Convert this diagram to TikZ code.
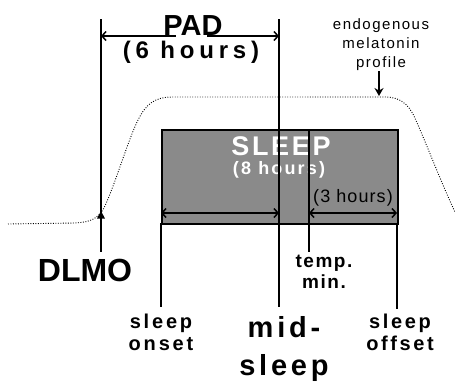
\documentclass[tikz,border=0pt]{standalone}
\usepackage{fontspec}
\setmainfont{Liberation Sans}
\usetikzlibrary{arrows.meta}
\definecolor{sleepgray}{HTML}{8A8A8A}
\newcommand{\mysz}[2]{\fontsize{#1}{#1}\selectfont\addfontfeature{LetterSpace=#2}}
\begin{document}
\begin{tikzpicture}[x=1pt,y=-1pt,
  lbl/.style={inner sep=0pt, anchor=base},
  vline/.style={line width=1.3pt},
  barb/.tip={Straight Barb[length=4pt,width=9pt]},
  dimline/.style={line width=1.5pt},
  dotcurve/.style={line width=0.9pt, dash pattern=on 0.9pt off 1.6pt}]
\useasboundingbox (0,0) rectangle (455,381);

% melatonin profile (dotted)
\draw[dotcurve] (8,224) -- (75,223) .. controls (92,222) and (98,218) .. (104,208)
  .. controls (115,185) and (128,140) .. (138,120)
  .. controls (146,104) and (155,97) .. (172,97) -- (385,97)
  .. controls (400,97) and (408,104) .. (414,116)
  .. controls (425,140) and (440,180) .. (455,212);

% sleep box
\node[draw, line width=2pt, fill=sleepgray, minimum width=236pt, minimum height=94pt,
      inner sep=0pt, anchor=north west] (box) at (161,129) {};

% labels
\node[lbl] (pad) at (193,35.5) {\bfseries\mysz{29}{0}PAD};
\node[lbl] (six) at (191,58) {\bfseries\mysz{24}{20}(6 hours)};
\node[lbl] (endo) at (381,29) {\mysz{15}{10}endogenous};
\node[lbl] (mela) at (381,48) {\mysz{15}{10}melatonin};
\node[lbl] (prof) at (381,67) {\mysz{15}{10}profile};
\node[lbl, text=white] (sleepT) at (281,155) {\bfseries\mysz{27}{10}SLEEP};
\node[lbl, text=white] (eight) at (279,174.5) {\bfseries\mysz{18}{12}(8 hours)};
\node[lbl] (three) at (353,202) {\mysz{18}{6}(3 hours)};
\node[lbl] (dlmo) at (85,281) {\bfseries\mysz{32}{0}DLMO};
\node[lbl] (temp) at (324,267) {\bfseries\mysz{19}{8}temp.};
\node[lbl] (min) at (324,288) {\bfseries\mysz{19}{8}min.};
\node[lbl] (on1) at (161,328) {\bfseries\mysz{20}{14}sleep};
\node[lbl] (on2) at (161,350) {\bfseries\mysz{20}{14}onset};
\node[lbl] (mid1) at (284,337) {\bfseries\mysz{29}{13}mid-};
\node[lbl] (mid2) at (284,375) {\bfseries\mysz{29}{13}sleep};
\node[lbl] (off1) at (400,328) {\bfseries\mysz{20}{13}sleep};
\node[lbl] (off2) at (400,350) {\bfseries\mysz{20}{13}offset};

% coordinates for line ends
\coordinate (dT) at (101,19);
\coordinate (dB) at (101,252);
\coordinate (mT) at (279,19);
\coordinate (mB) at (279,307);
\coordinate (tT) at (309,129);
\coordinate (tB) at (309,252);
\coordinate (oT) at (161,223);
\coordinate (oB) at (161,307);
\coordinate (fT) at (397,223);
\coordinate (fB) at (397,309);

% vertical lines
\draw[vline] (dT) -- (dB);
\draw[vline] (mT) -- (mB);
\draw[vline] (tT) -- (tB);
\draw[vline] (oT) -- (oB);
\draw[vline] (fT) -- (fB);

% PAD arrow (gap under the A)
\coordinate (padL) at (101,36);
\coordinate (gapL) at (176,36);
\coordinate (gapR) at (207,36);
\coordinate (padR) at (279,36);
\draw[dimline, {barb}-] (padL) -- (gapL);
\draw[dimline, -{barb}] (gapR) -- (padR);

% arrows inside sleep box
\coordinate (a1L) at (161,213);
\coordinate (a1R) at (279,213);
\coordinate (a2L) at (309,213);
\coordinate (a2R) at (397,213);
\draw[dimline, {barb}-{barb}] (a1L) -- (a1R);
\draw[dimline, {barb}-{barb}] (a2L) -- (a2R);

% DLMO marker
\fill (101,211) -- (97,218.5) -- (105,218.5) -- cycle;

% profile arrow
\coordinate (pA) at (379,71);
\coordinate (pB) at (379,96);
\draw[line width=1.5pt, -{Stealth[length=8pt,width=9pt]}] (pA) -- (pB);
\end{tikzpicture}
\end{document}
